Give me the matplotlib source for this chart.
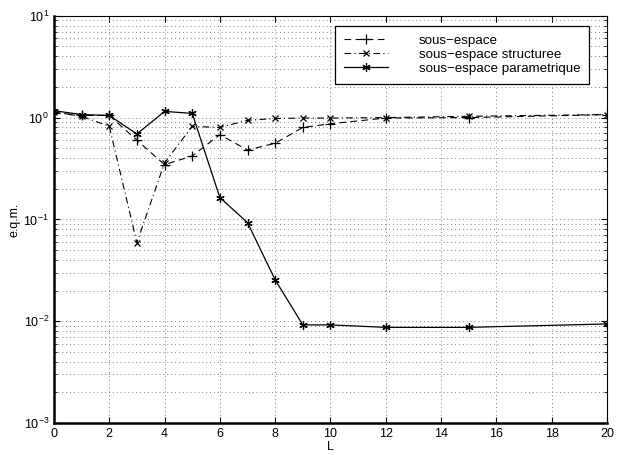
import numpy as np
import matplotlib
matplotlib.use("Agg")
import matplotlib.pyplot as plt
from matplotlib.ticker import LogLocator, NullFormatter

plt.rcParams['font.family'] = ['Liberation Sans', 'DejaVu Sans']
plt.rcParams['mathtext.fontset'] = 'custom'
plt.rcParams['mathtext.rm'] = 'Liberation Sans'

# data
L = [0, 1, 2, 3, 4, 5, 6, 7, 8, 9, 10, 12, 15, 20]
sous_espace = [1.12, 1.05, 1.05, 0.60, 0.345, 0.42, 0.68, 0.48, 0.56, 0.80,
               0.87, 0.99, 1.0, 1.07]
sous_espace_struct = [1.13, 1.03, 0.82, 0.059, 0.36, 0.82, 0.80, 0.94, 0.98,
                      0.99, 0.99, 1.0, 1.03, 1.07]
sous_espace_param = [1.17, 1.07, 1.05, 0.69, 1.15, 1.10, 0.164, 0.093, 0.0255,
                     0.0092, 0.0092, 0.0087, 0.0087, 0.0094]
labels = ['sous\u2212espace', 'sous\u2212espace structuree',
          'sous\u2212espace parametrique']

fig = plt.figure(figsize=(6.2, 4.55), dpi=100)
ax = fig.add_axes([0.087, 0.0703, 0.892, 0.895])

ax.plot(L, sous_espace, color='black', lw=0.8, linestyle=(0, (6, 4)),
        marker='+', ms=7, mew=0.9, label=labels[0])
ax.plot(L, sous_espace_struct, color='black', lw=0.8,
        linestyle=(0, (6, 3, 1, 3)), marker='x', ms=4.5, mew=0.9, label=labels[1])
ax.plot(L, sous_espace_param, color='black', lw=0.9, linestyle='-',
        marker=(6, 2, 0), ms=6, mew=0.9, label=labels[2])

ax.set_yscale('log')
ax.set_xlim(0, 20)
ax.set_ylim(1e-3, 1e1)
ax.set_xticks(np.arange(0, 21, 2))
ax.yaxis.set_major_locator(LogLocator(base=10, numticks=10))
ax.yaxis.set_minor_locator(LogLocator(base=10, subs=np.arange(2, 10), numticks=100))
ax.yaxis.set_minor_formatter(NullFormatter())

ax.grid(True, which='major', linestyle=(0, (1, 3)), color='#808080', lw=0.7)
ax.grid(True, which='minor', axis='y', linestyle=(0, (1, 3)), color='#808080', lw=0.7)
ax.tick_params(which='both', direction='in', top=True, right=True, labelsize=9)
ax.tick_params(which='minor', length=2)
ax.tick_params(which='major', length=4)

for s in ['left', 'bottom']:
    ax.spines[s].set_linewidth(1.8)
for s in ['top', 'right']:
    ax.spines[s].set_linewidth(0.8)

ax.set_xlabel('L', fontsize=9, labelpad=1)
ax.set_ylabel('e.q.m.', fontsize=9, labelpad=2)

leg = ax.legend(loc='upper right', bbox_to_anchor=(0.9675, 0.975), fontsize=9.6,
                fancybox=False, edgecolor='black', framealpha=1,
                handlelength=3.3, borderpad=0.65, labelspacing=0.12,
                handletextpad=2.3, borderaxespad=0)
leg.get_frame().set_linewidth(0.9)

fig.savefig('out.png', dpi=100)
